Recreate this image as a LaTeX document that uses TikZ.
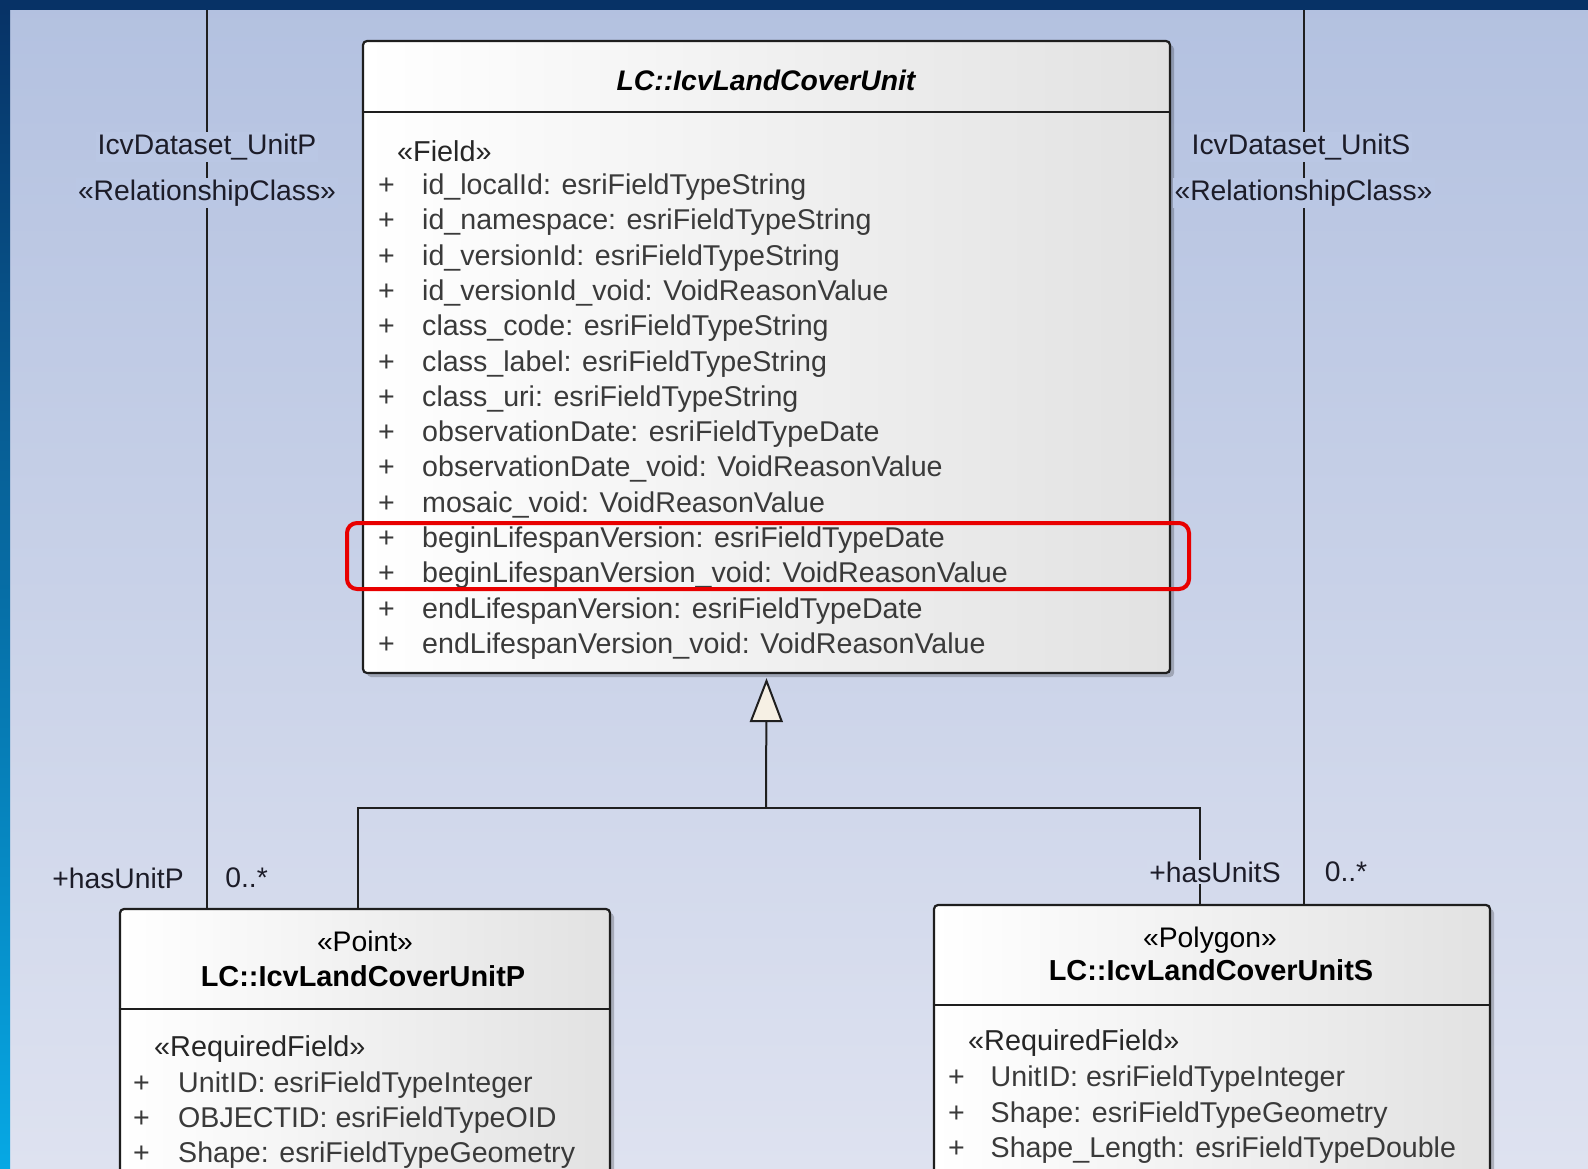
\documentclass[tikz,border=0pt]{standalone}
\usepackage{fontspec}
\setmainfont{Liberation Sans}
\usetikzlibrary{arrows.meta,shadows,calc}
\definecolor{navy}{RGB}{7,50,102}
\definecolor{cyanedge}{RGB}{6,168,228}
\definecolor{bgtop}{RGB}{179,193,224}
\definecolor{bgbot}{RGB}{222,226,240}
\definecolor{lblA}{RGB}{186,199,228}
\definecolor{lblB}{RGB}{211,218,236}
\definecolor{rowtext}{RGB}{58,58,58}
\definecolor{boxline}{RGB}{30,30,30}
\definecolor{hlred}{RGB}{232,0,0}
\definecolor{tricream}{RGB}{246,240,228}
\definecolor{boxgrey}{RGB}{226,226,226}
\begin{document}
\begin{tikzpicture}[x=1pt,y=-1pt,
  font=\fontsize{28}{33}\selectfont,
  umlbox/.style={draw=boxline, line width=2.2pt, rounded corners=4pt,
    left color=white, right color=boxgrey, inner sep=0pt,
    drop shadow={shadow xshift=4pt, shadow yshift=-4pt, opacity=0.22, fill=black}},
  txt/.style={anchor=base west, inner sep=0pt, text=rowtext, font=\fontsize{28.6}{33}\selectfont},
  ster/.style={anchor=base west, inner sep=0pt, text=black!85, font=\fontsize{28.8}{33}\selectfont},
  ttl/.style={anchor=base, inner sep=0pt, text=black, font=\fontsize{28.3}{33}\selectfont},
  bttl/.style={anchor=base, inner sep=0pt, text=black, font=\fontsize{28.9}{33}\selectfont\bfseries},
  lbl/.style={inner sep=2pt, text={rgb,255:red,28;green,28;blue,40}, font=\fontsize{28.3}{33}\selectfont},
  conn/.style={draw=black!88, line width=2pt},
  sep/.style={draw=boxline, line width=2pt}
]
\useasboundingbox (0,0) rectangle (1588,1168);
\clip (0,0) rectangle (1588,1168);
% background
\shade[top color=bgtop, bottom color=bgbot] (0,0) rectangle (1588,1168);
\shade[top color=navy, bottom color=cyanedge] (0,0) rectangle (10,1168);
\fill[navy] (0,0) rectangle (1588,10);

% named free ends of the association lines
\coordinate (topP) at (207,10);
\coordinate (topS) at (1303.5,10);
\coordinate (gj) at (766,808);

% boxes
\node[umlbox, minimum width=807pt, minimum height=632pt] (main) at (766.5,357) {};
\node[umlbox, minimum width=490pt, minimum height=291pt] (pbox) at (365,1054.5) {};
\node[umlbox, minimum width=556pt, minimum height=295pt] (sbox) at (1212,1052.5) {};

% connectors
\draw[conn] (topP) -- (pbox.north -| topP);
\draw[conn] (topS) -- (sbox.north -| topS);
\draw[conn] ([xshift=-7.5pt]pbox.north) |- (gj) -| ([xshift=-12pt]sbox.north);
\draw[conn, -{Triangle[open, length=44pt, width=33pt, line width=2pt, fill=tricream]}]
  (gj) -- ([yshift=-4pt]main.south);

% association labels
\node[lbl, fill=lblA] (nameP) at (207,147) {IcvDataset\_UnitP};
\node[lbl, fill=lblA] (sterP) at (207,193) {«RelationshipClass»};
\node[lbl, fill=lblA] (nameS) at (1301,147) {IcvDataset\_UnitS};
\node[lbl, fill=lblA] (sterS) at (1303.5,193) {«RelationshipClass»};
\node[lbl] (roleP) at (118,878) {+hasUnitP};
\node[lbl] (multP) at (246.6,878) {0..*};
\node[lbl, fill=lblB] (roleS) at (1215,872) {+hasUnitS};
\node[lbl] (multS) at (1346,872) {0..*};

% main class
\node[ttl, font=\fontsize{28.3}{33}\selectfont\bfseries\itshape] (mainT) at (766,90) {LC::IcvLandCoverUnit};
\draw[sep] (main.west |- 0,112) -- (main.east |- 0,112);
\node[ster] (mainS) at (397,161) {«Field»};
\foreach [count=\i from 0] \t in {
  id\_localId: esriFieldTypeString,
  id\_namespace: esriFieldTypeString,
  id\_versionId: esriFieldTypeString,
  id\_versionId\_void: VoidReasonValue,
  class\_code: esriFieldTypeString,
  class\_label: esriFieldTypeString,
  class\_uri: esriFieldTypeString,
  observationDate: esriFieldTypeDate,
  observationDate\_void: VoidReasonValue,
  mosaic\_void: VoidReasonValue,
  beginLifespanVersion: esriFieldTypeDate,
  beginLifespanVersion\_void: VoidReasonValue,
  endLifespanVersion: esriFieldTypeDate,
  endLifespanVersion\_void: VoidReasonValue}
{
  \node[txt] (mp\i) at (378,{194.5+35.3*\i}) {+};
  \node[txt] (mt\i) at (422,{194.5+35.3*\i}) {\t};
}
\node[draw=hlred, line width=4pt, rounded corners=10pt, minimum width=842pt, minimum height=66pt, inner sep=0pt] (hl) at (768,556) {};

% point class
\node[ttl] (pS) at (365,951) {«Point»};
\node[bttl] (pT) at (363,986) {LC::IcvLandCoverUnitP};
\draw[sep] (pbox.west |- 0,1009) -- (pbox.east |- 0,1009);
\node[ster] (pR) at (154,1056) {«RequiredField»};
\foreach [count=\i from 0] \t in {
  UnitID: esriFieldTypeInteger,
  OBJECTID: esriFieldTypeOID,
  Shape: esriFieldTypeGeometry}
{
  \node[txt] (pp\i) at (133,{1092.7+34.95*\i}) {+};
  \node[txt] (pt\i) at (178,{1092.7+34.95*\i}) {\t};
}

% polygon class
\node[ttl] (sS) at (1210,947) {«Polygon»};
\node[bttl] (sT) at (1211,980) {LC::IcvLandCoverUnitS};
\draw[sep] (sbox.west |- 0,1005) -- (sbox.east |- 0,1005);
\node[ster] (sR) at (968,1050) {«RequiredField»};
\foreach [count=\i from 0] \t in {
  UnitID: esriFieldTypeInteger,
  Shape: esriFieldTypeGeometry,
  Shape\_Length: esriFieldTypeDouble}
{
  \node[txt] (sp\i) at (948,{1086.6+35.45*\i}) {+};
  \node[txt] (st\i) at (990.5,{1086.6+35.45*\i}) {\t};
}
\end{tikzpicture}
\end{document}
